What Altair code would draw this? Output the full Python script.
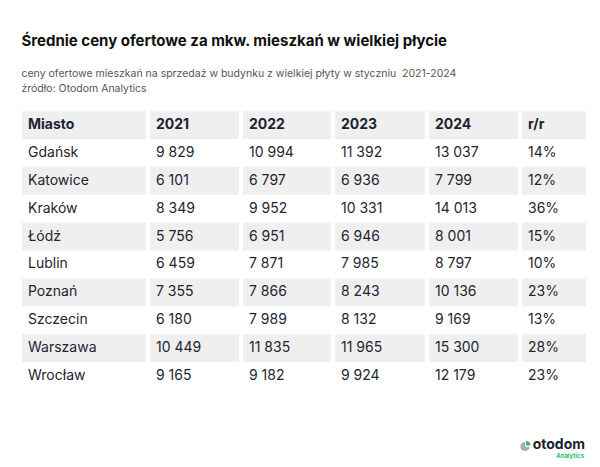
import altair as alt
import pandas as pd

title_text = "Średnie ceny ofertowe za mkw. mieszkań w wielkiej płycie"
subtitle_lines = [
    "ceny ofertowe mieszkań na sprzedaż w budynku z wielkiej płyty w styczniu\u00a0 2021-2024",
    "źródło: Otodom Analytics",
]

header = ["Miasto", "2021", "2022", "2023", "2024", "r/r"]
cities = ["Gdańsk", "Katowice", "Kraków", "Łódź", "Lublin", "Poznań", "Szczecin", "Warszawa", "Wrocław"]
price_2021 = [9829, 6101, 8349, 5756, 6459, 7355, 6180, 10449, 9165]
price_2022 = [10994, 6797, 9952, 6951, 7871, 7866, 7989, 11835, 9182]
price_2023 = [11392, 6936, 10331, 6946, 7985, 8243, 8132, 11965, 9924]
price_2024 = [13037, 7799, 14013, 8001, 8797, 10136, 9169, 15300, 12179]
yoy_pct = [14, 12, 36, 15, 10, 23, 13, 28, 23]

# ---- tables built from the arrays ----
series = {"2021": price_2021, "2022": price_2022, "2023": price_2023, "2024": price_2024, "r/r": yoy_pct}
records = []
for i, c in enumerate(cities):
    records.append({"row": c, "col": "Miasto", "name": c, "num": None})
    for k, arr in series.items():
        records.append({"row": c, "col": k, "name": "", "num": arr[i]})
body_df = pd.DataFrame(records)

row_keys = ["Miasto"] + cities
head_df = pd.DataFrame({"row": ["Miasto"] * len(header), "col": header})
stripe_df = pd.DataFrame({"row": row_keys[::2]})

FONT = "Inter"
TXT = "#1f2430"
GREY = "#efefef"

yscale = alt.Scale(domain=row_keys, paddingInner=0, paddingOuter=0)
panel_widths = [124, 89, 88, 90, 89, 64]

label_expr = (
    "datum.col == 'Miasto' ? datum.name : "
    "(datum.col == 'r/r' ? datum.num + '%' : replace(format(datum.num, ','), ',', ' '))"
)


def panel(colname, w):
    rect = alt.Chart(stripe_df).mark_rect(color=GREY).encode(
        y=alt.Y("row:N", scale=yscale, axis=None),
        x=alt.value(0),
        x2=alt.value("width"),
    )
    head = alt.Chart(head_df).transform_filter(alt.datum.col == colname).mark_text(
        align="left", font=FONT, fontSize=14, fontWeight="bold", color=TXT
    ).encode(
        y=alt.Y("row:N", scale=yscale, axis=None),
        x=alt.value(6),
        text="col:N",
    )
    body = alt.Chart(body_df).transform_filter(alt.datum.col == colname).transform_calculate(
        label=label_expr
    ).mark_text(align="left", font=FONT, fontSize=14, color=TXT).encode(
        y=alt.Y("row:N", scale=yscale, axis=None),
        x=alt.value(6),
        text="label:N",
    )
    return alt.layer(rect, head, body).properties(width=w, height=279)


table = alt.hconcat(*[panel(c, w) for c, w in zip(header, panel_widths)], spacing=2)

# ---- logo ----
logo_df = pd.DataFrame({"brand": ["otodom"], "sub": ["Analytics"]})
logo_base = alt.Chart(logo_df)
icon_grey = logo_base.mark_arc(color="#a9acb3", radius=4.6, theta=1.75, theta2=6.28).encode(
    x=alt.value(503), y=alt.value(10.5)
)
icon_green = logo_base.mark_arc(color="#2fbf5f", radius=4.6, theta=0.0, theta2=1.57).encode(
    x=alt.value(504), y=alt.value(9.5)
)
brand = logo_base.mark_text(
    align="right", baseline="alphabetic", font=FONT, fontSize=14, fontWeight="bold", color="#1a1f2b"
).encode(x=alt.value(563), y=alt.value(13), text="brand:N")
sub = logo_base.mark_text(
    align="right", baseline="alphabetic", font=FONT, fontSize=6, fontWeight="bold", color="#2fbf5f"
).encode(x=alt.value(562), y=alt.value(22.3), text="sub:N")
logo = alt.layer(icon_grey, icon_green, brand, sub).properties(width=554, height=24)

chart = alt.vconcat(table, logo, spacing=44).properties(
    title=alt.TitleParams(
        text=title_text,
        subtitle=subtitle_lines,
        anchor="start",
        font=FONT,
        fontSize=15,
        fontWeight="bold",
        color="#111111",
        subtitleFont=FONT,
        subtitleFontSize=10.5,
        subtitleColor="#555555",
        subtitleLineHeight=15,
        subtitlePadding=20,
        offset=16,
    ),
    padding={"left": 13, "top": 26, "right": 0, "bottom": 0},
    background="white",
).configure_view(stroke="transparent")

chart.save("out.html", embed_options={"renderer": "svg", "actions": False})
